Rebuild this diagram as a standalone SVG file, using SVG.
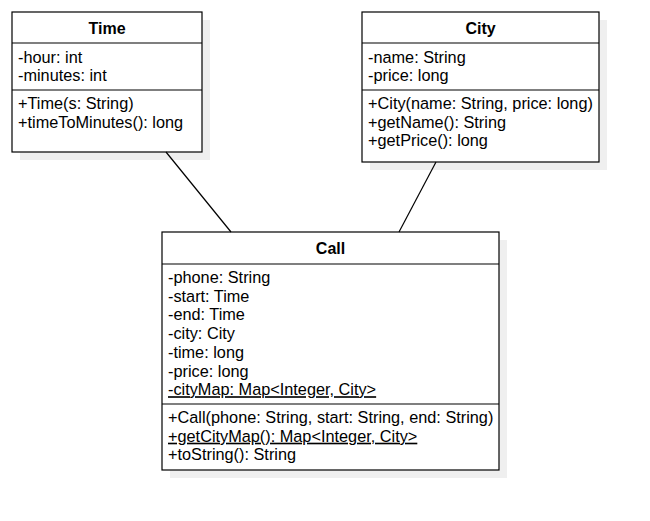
<svg xmlns="http://www.w3.org/2000/svg" width="650" height="521" viewBox="0 0 650 521">
<style>
.sh{fill:#efefef;stroke:none}
.box{fill:#fff;stroke:#000;stroke-width:1.2}
.sep{stroke:#000;stroke-width:1.2}
.t{font-family:"Liberation Sans",Arial,sans-serif;font-size:16.3px;fill:#000}
.h{font-weight:bold;text-anchor:middle;font-size:16px}
.u{text-decoration:underline}
.c{stroke:#000;stroke-width:1.2;fill:none}
</style>
<rect width="650" height="521" fill="#fff"/>
<g id="Time">
<rect class="sh" x="20" y="20" width="190" height="140"/>
<rect class="box" x="12" y="12" width="190" height="140"/>
<line class="sep" x1="12" y1="43" x2="202" y2="43"/>
<line class="sep" x1="12" y1="90" x2="202" y2="90"/>
<text class="t h" x="107" y="33.5">Time</text>
<text class="t" x="18" y="62.5">-hour: int</text>
<text class="t" x="18" y="81">-minutes: int</text>
<text class="t" x="18" y="109">+Time(s: String)</text>
<text class="t" x="18" y="127.5">+timeToMinutes(): long</text>
</g>
<g id="City">
<rect class="sh" x="370" y="20" width="237" height="150"/>
<rect class="box" x="362" y="12" width="237" height="150"/>
<line class="sep" x1="362" y1="43" x2="599" y2="43"/>
<line class="sep" x1="362" y1="90" x2="599" y2="90"/>
<text class="t h" x="480.5" y="33.5">City</text>
<text class="t" x="368" y="62.5">-name: String</text>
<text class="t" x="368" y="81">-price: long</text>
<text class="t" x="368" y="109">+City(name: String, price: long)</text>
<text class="t" x="368" y="127.5">+getName(): String</text>
<text class="t" x="368" y="146">+getPrice(): long</text>
</g>
<g id="Call">
<rect class="sh" x="170" y="240" width="337" height="238"/>
<rect class="box" x="162" y="232" width="337" height="238"/>
<line class="sep" x1="162" y1="264" x2="499" y2="264"/>
<line class="sep" x1="162" y1="404" x2="499" y2="404"/>
<text class="t h" x="330.5" y="253.5">Call</text>
<text class="t" x="168" y="283">-phone: String</text>
<text class="t" x="168" y="301.7">-start: Time</text>
<text class="t" x="168" y="320.4">-end: Time</text>
<text class="t" x="168" y="339.1">-city: City</text>
<text class="t" x="168" y="357.8">-time: long</text>
<text class="t" x="168" y="376.5">-price: long</text>
<text class="t u" x="168" y="395.2">-cityMap: Map&lt;Integer, City&gt;</text>
<text class="t" x="168" y="423">+Call(phone: String, start: String, end: String)</text>
<text class="t u" x="168" y="441.7">+getCityMap(): Map&lt;Integer, City&gt;</text>
<text class="t" x="168" y="460.4">+toString(): String</text>
</g>
<g id="connectors">
<line class="c" x1="166" y1="152" x2="231" y2="232"/>
<line class="c" x1="436" y1="162" x2="399" y2="232"/>
</g>
</svg>
